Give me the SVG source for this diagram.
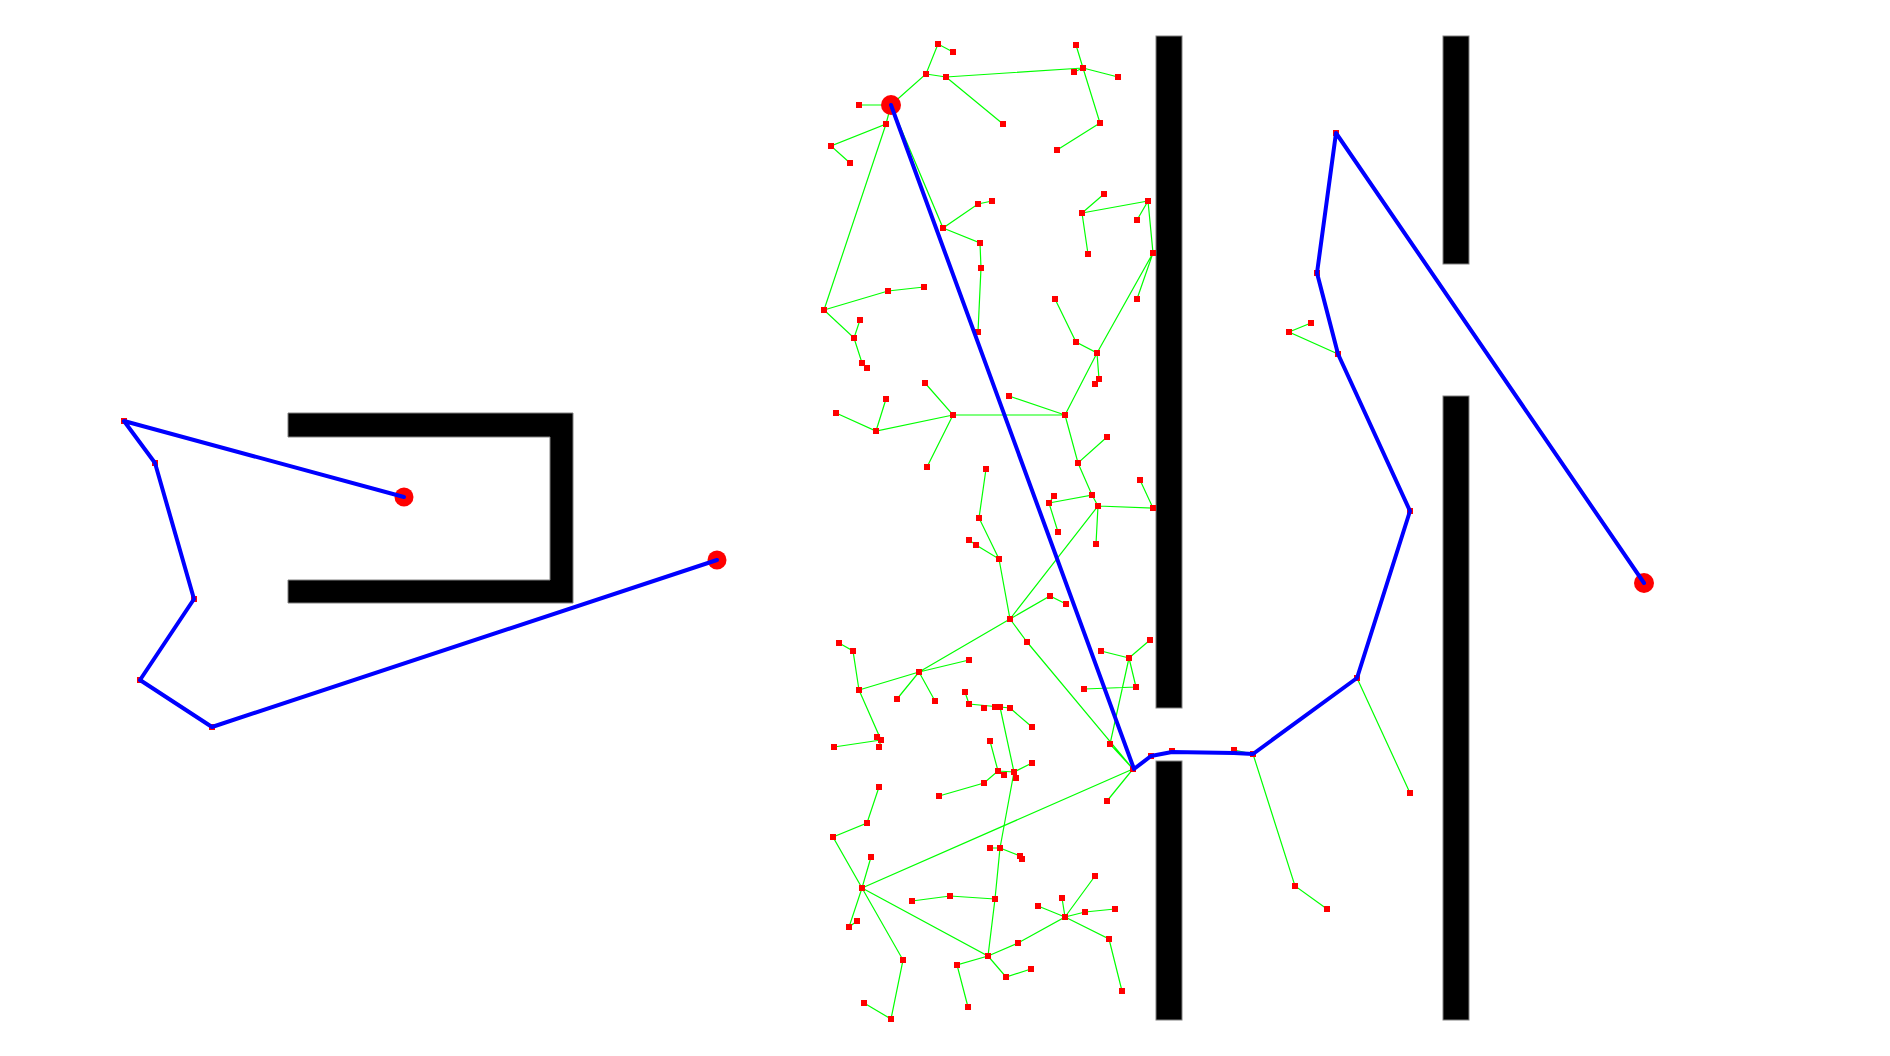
<svg xmlns="http://www.w3.org/2000/svg" xmlns:xlink="http://www.w3.org/1999/xlink" width="1890" height="1056" viewBox="0 0 1890 1056">
<style>
.wall{fill:#000;stroke:#808080;stroke-width:1}
.edge{stroke:#00ff00;stroke-width:1.2;fill:none}
.path{stroke:#0000ff;stroke-width:4;fill:none;stroke-linejoin:round;stroke-linecap:round}
.node{fill:#ff0000}
.dot{fill:#ff0000}
</style>
<defs>
<rect id="n" x="-3" y="-3" width="6" height="6" class="node"/>
</defs>
<rect width="1890" height="1056" fill="#fff"/>
<g id="walls">
<path class="wall" d="M288,413H573V603H288V580H550V437H288Z"/>
<rect class="wall" x="1156" y="36" width="26" height="672"/>
<rect class="wall" x="1156" y="761" width="26" height="259"/>
<rect class="wall" x="1443" y="36" width="26" height="228"/>
<rect class="wall" x="1443" y="396" width="26" height="624"/>
</g>
<g id="connectors">
<path class="edge" d="M891,105L859,105M891,105L926,74L938,44L953,52M926,74L946,77L1083,68M946,77L1003,124M1083,68L1076,45M1083,68L1074,72M1083,68L1118,77M1083,68L1100,123L1057,150M891,105L886,124L831,146L850,163M886,124L824,310M891,105L943,228L978,204L992,201M943,228L980,243L981,268L978,332M824,310L888,291L924,287M824,310L854,338L860,320M854,338L862,363L867,368"/>
<path class="edge" d="M1082,213L1104,194M1082,213L1148,201L1137,220M1148,201L1153,253L1137,299M1153,253L1097,353M1082,213L1088,254M1055,299L1076,342L1097,353L1099,379L1095,384M1097,353L1065,415M1009,396L1065,415L953,415L925,383M953,415L876,431L836,413M876,431L886,399M953,415L927,467M1065,415L1078,463L1107,437M1078,463L1092,495L1049,503L1054,496M1049,503L1058,532M1092,495L1098,506L1153,508L1140,480M1098,506L1096,544M1098,506L1010,619"/>
<path class="edge" d="M986,469L979,518L999,559L976,545L969,540M999,559L1010,619L1050,596L1066,604M1010,619L1027,642M1010,619L919,672L969,660M919,672L859,690M919,672L897,699M919,672L935,701M859,690L853,651L839,643M859,690L881,740L877,737M881,740L879,747M881,740L834,747M1027,642L1133,769M1129,658L1101,651M1129,658L1150,640M1129,658L1136,687L1084,689M1129,658L1110,744L1133,769M1133,769L1107,801M1133,769L862,888"/>
<path class="edge" d="M965,692L969,704L1000,707L1010,708L1032,727M1000,707L1014,772M990,741L998,771L1014,772L1032,763M1014,772L1016,778M998,771L1004,775M998,771L984,783L939,796M1014,772L1000,848M879,787L867,823L833,837L862,888L871,857M862,888L849,927L857,921M862,888L903,960L891,1019L864,1003M862,888L988,956L995,899L1000,848L990,848M1000,848L1020,856L1022,859M995,899L950,896L912,901M988,956L957,965L968,1007M988,956L1006,977L1031,969M988,956L1018,943L1065,917L1038,906M1065,917L1062,898M1065,917L1095,876M1065,917L1085,912L1115,909M1065,917L1109,939L1122,991"/>
<path class="edge" d="M1338,354L1289,332L1311,323M1357,678L1410,793M1253,754L1295,886L1327,909M1253,754L1234,750"/>
</g>
<g id="nodes">
<use xlink:href="#n" x="859" y="105"/><use xlink:href="#n" x="926" y="74"/><use xlink:href="#n" x="938" y="44"/><use xlink:href="#n" x="953" y="52"/><use xlink:href="#n" x="946" y="77"/><use xlink:href="#n" x="1003" y="124"/><use xlink:href="#n" x="1083" y="68"/><use xlink:href="#n" x="1076" y="45"/><use xlink:href="#n" x="1074" y="72"/><use xlink:href="#n" x="1118" y="77"/><use xlink:href="#n" x="1100" y="123"/><use xlink:href="#n" x="1057" y="150"/><use xlink:href="#n" x="886" y="124"/><use xlink:href="#n" x="831" y="146"/><use xlink:href="#n" x="850" y="163"/><use xlink:href="#n" x="824" y="310"/><use xlink:href="#n" x="943" y="228"/><use xlink:href="#n" x="978" y="204"/><use xlink:href="#n" x="992" y="201"/><use xlink:href="#n" x="980" y="243"/><use xlink:href="#n" x="981" y="268"/><use xlink:href="#n" x="978" y="332"/><use xlink:href="#n" x="888" y="291"/><use xlink:href="#n" x="924" y="287"/><use xlink:href="#n" x="854" y="338"/><use xlink:href="#n" x="860" y="320"/><use xlink:href="#n" x="862" y="363"/><use xlink:href="#n" x="867" y="368"/>
<use xlink:href="#n" x="1082" y="213"/><use xlink:href="#n" x="1104" y="194"/><use xlink:href="#n" x="1148" y="201"/><use xlink:href="#n" x="1137" y="220"/><use xlink:href="#n" x="1153" y="253"/><use xlink:href="#n" x="1137" y="299"/><use xlink:href="#n" x="1088" y="254"/><use xlink:href="#n" x="1055" y="299"/><use xlink:href="#n" x="1076" y="342"/><use xlink:href="#n" x="1097" y="353"/><use xlink:href="#n" x="1099" y="379"/><use xlink:href="#n" x="1095" y="384"/><use xlink:href="#n" x="1065" y="415"/><use xlink:href="#n" x="1009" y="396"/><use xlink:href="#n" x="953" y="415"/><use xlink:href="#n" x="925" y="383"/><use xlink:href="#n" x="876" y="431"/><use xlink:href="#n" x="836" y="413"/><use xlink:href="#n" x="886" y="399"/><use xlink:href="#n" x="927" y="467"/><use xlink:href="#n" x="1078" y="463"/><use xlink:href="#n" x="1107" y="437"/><use xlink:href="#n" x="1092" y="495"/><use xlink:href="#n" x="1049" y="503"/><use xlink:href="#n" x="1054" y="496"/><use xlink:href="#n" x="1058" y="532"/><use xlink:href="#n" x="1098" y="506"/><use xlink:href="#n" x="1153" y="508"/><use xlink:href="#n" x="1140" y="480"/><use xlink:href="#n" x="1096" y="544"/>
<use xlink:href="#n" x="986" y="469"/><use xlink:href="#n" x="979" y="518"/><use xlink:href="#n" x="999" y="559"/><use xlink:href="#n" x="976" y="545"/><use xlink:href="#n" x="969" y="540"/><use xlink:href="#n" x="1010" y="619"/><use xlink:href="#n" x="1050" y="596"/><use xlink:href="#n" x="1066" y="604"/><use xlink:href="#n" x="1027" y="642"/><use xlink:href="#n" x="919" y="672"/><use xlink:href="#n" x="969" y="660"/><use xlink:href="#n" x="859" y="690"/><use xlink:href="#n" x="897" y="699"/><use xlink:href="#n" x="935" y="701"/><use xlink:href="#n" x="853" y="651"/><use xlink:href="#n" x="839" y="643"/><use xlink:href="#n" x="881" y="740"/><use xlink:href="#n" x="877" y="737"/><use xlink:href="#n" x="879" y="747"/><use xlink:href="#n" x="834" y="747"/><use xlink:href="#n" x="1129" y="658"/><use xlink:href="#n" x="1101" y="651"/><use xlink:href="#n" x="1150" y="640"/><use xlink:href="#n" x="1136" y="687"/><use xlink:href="#n" x="1084" y="689"/><use xlink:href="#n" x="1110" y="744"/><use xlink:href="#n" x="1133" y="769"/><use xlink:href="#n" x="1107" y="801"/>
<use xlink:href="#n" x="965" y="692"/><use xlink:href="#n" x="969" y="704"/><use xlink:href="#n" x="984" y="708"/><use xlink:href="#n" x="995" y="707"/><use xlink:href="#n" x="1000" y="707"/><use xlink:href="#n" x="1010" y="708"/><use xlink:href="#n" x="1032" y="727"/><use xlink:href="#n" x="990" y="741"/><use xlink:href="#n" x="998" y="771"/><use xlink:href="#n" x="1014" y="772"/><use xlink:href="#n" x="1032" y="763"/><use xlink:href="#n" x="1016" y="778"/><use xlink:href="#n" x="1004" y="775"/><use xlink:href="#n" x="984" y="783"/><use xlink:href="#n" x="939" y="796"/><use xlink:href="#n" x="879" y="787"/><use xlink:href="#n" x="867" y="823"/><use xlink:href="#n" x="833" y="837"/><use xlink:href="#n" x="862" y="888"/><use xlink:href="#n" x="871" y="857"/><use xlink:href="#n" x="849" y="927"/><use xlink:href="#n" x="857" y="921"/><use xlink:href="#n" x="903" y="960"/><use xlink:href="#n" x="891" y="1019"/><use xlink:href="#n" x="864" y="1003"/><use xlink:href="#n" x="988" y="956"/><use xlink:href="#n" x="995" y="899"/><use xlink:href="#n" x="1000" y="848"/><use xlink:href="#n" x="990" y="848"/><use xlink:href="#n" x="1020" y="856"/><use xlink:href="#n" x="1022" y="859"/><use xlink:href="#n" x="950" y="896"/><use xlink:href="#n" x="912" y="901"/><use xlink:href="#n" x="957" y="965"/><use xlink:href="#n" x="968" y="1007"/><use xlink:href="#n" x="1006" y="977"/><use xlink:href="#n" x="1031" y="969"/><use xlink:href="#n" x="1018" y="943"/><use xlink:href="#n" x="1065" y="917"/><use xlink:href="#n" x="1038" y="906"/><use xlink:href="#n" x="1062" y="898"/><use xlink:href="#n" x="1095" y="876"/><use xlink:href="#n" x="1085" y="912"/><use xlink:href="#n" x="1115" y="909"/><use xlink:href="#n" x="1109" y="939"/><use xlink:href="#n" x="1122" y="991"/>
<use xlink:href="#n" x="1151" y="756"/><use xlink:href="#n" x="1172" y="751"/><use xlink:href="#n" x="1234" y="750"/><use xlink:href="#n" x="1253" y="754"/><use xlink:href="#n" x="1295" y="886"/><use xlink:href="#n" x="1327" y="909"/><use xlink:href="#n" x="1357" y="678"/><use xlink:href="#n" x="1410" y="793"/><use xlink:href="#n" x="1410" y="511"/><use xlink:href="#n" x="1338" y="354"/><use xlink:href="#n" x="1289" y="332"/><use xlink:href="#n" x="1311" y="323"/><use xlink:href="#n" x="1317" y="273"/><use xlink:href="#n" x="1336" y="133"/>
<use xlink:href="#n" x="212" y="727"/><use xlink:href="#n" x="140" y="680"/><use xlink:href="#n" x="194" y="599"/><use xlink:href="#n" x="155" y="463"/><use xlink:href="#n" x="124" y="421"/>
</g>
<g id="endpoints">
<circle class="dot" cx="404" cy="497" r="9.5"/>
<circle class="dot" cx="717" cy="560" r="9.5"/>
<circle class="dot" cx="891" cy="105" r="10"/>
<circle class="dot" cx="1644" cy="583" r="10"/>
</g>
<g id="paths">
<polyline class="path" points="717,560 212,727 140,680 194,599 155,463 124,421 404,497"/>
<polyline class="path" points="891,105 1134,769 1151,756 1172,752 1234,753 1253,754 1357,678 1410,511 1338,354 1317,273 1336,133 1644,583"/>
</g>
</svg>
